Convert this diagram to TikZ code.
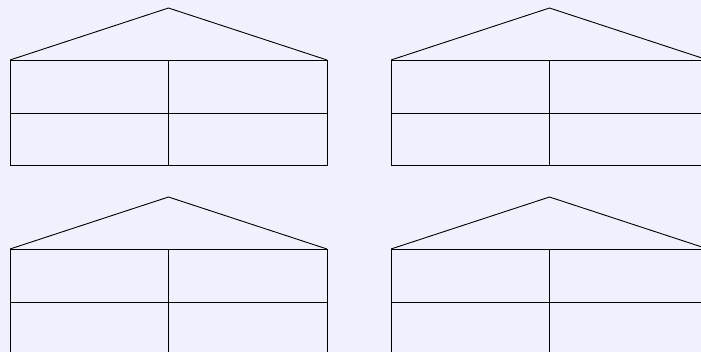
\documentclass[tikz,border=0pt]{standalone}
\definecolor{bg}{RGB}{240,240,255}
\tikzset{
  houseline/.style={draw=black, line width=0.9pt},
  house/.pic={
    \draw[houseline] (0,52) -- (158.5,0) -- (317,52);
    \draw[houseline] (0,52) rectangle (317,157);
    \draw[houseline] (0,105) -- (317,105);
    \draw[houseline] (158.5,52) -- (158.5,157);
  }
}
\begin{document}
\begin{tikzpicture}[x=1pt,y=-1pt]
\fill[bg] (0,0) rectangle (701,352);
\useasboundingbox (0,0) rectangle (701,352);
\begin{scope}
\clip (0,0) rectangle (701,352);
\pic at (10,8) {house};
\pic at (391,8) {house};
\pic at (10,197) {house};
\pic at (391,197) {house};
\end{scope}
\end{tikzpicture}
\end{document}
